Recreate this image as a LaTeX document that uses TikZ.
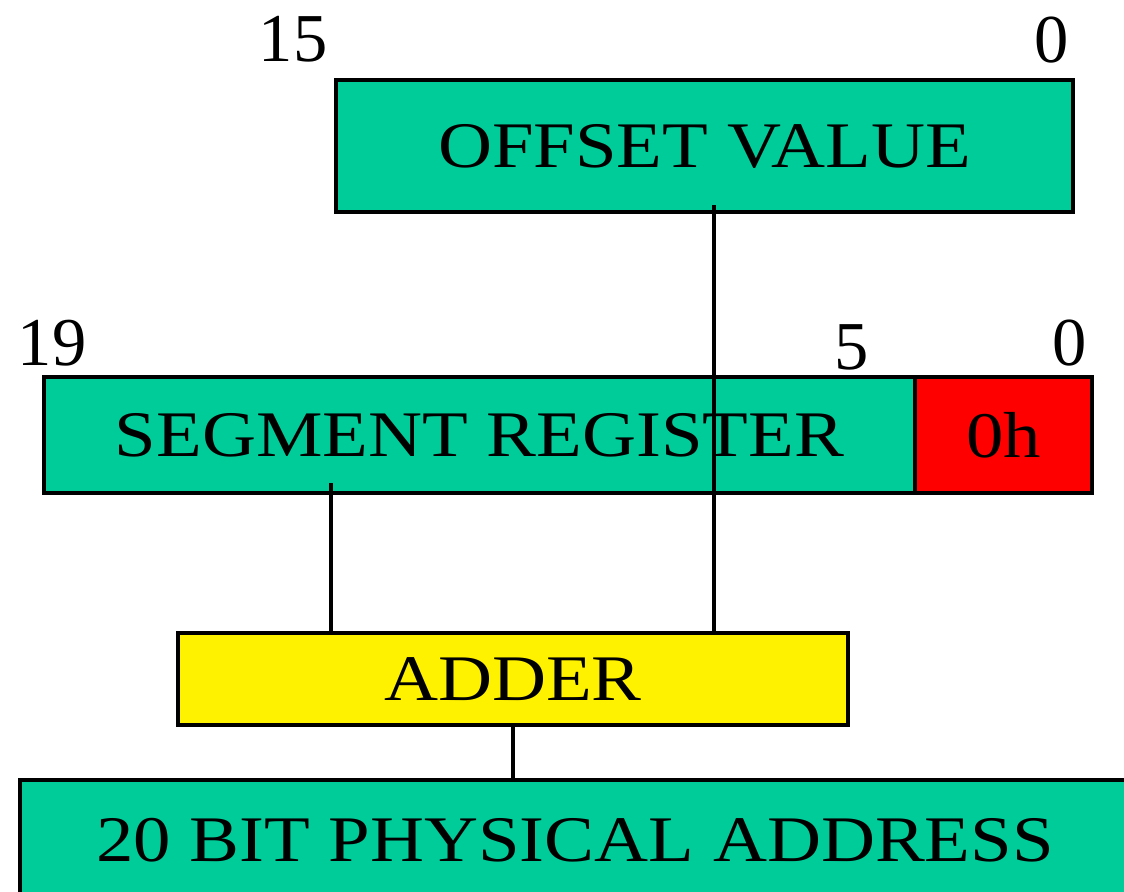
\documentclass[tikz,border=0pt]{standalone}
\usepackage{fontspec}
\setmainfont[FakeStretch=1.15]{Liberation Serif}
\newfontfamily\numfont{Liberation Serif}
\usetikzlibrary{calc}
\definecolor{regteal}{RGB}{0,204,153}
\tikzset{
	regbox/.style={draw=black, line width=1.3pt, inner sep=0pt, font=\fontsize{18.5}{20}\selectfont},
	bitnum/.style={inner sep=0pt, font=\numfont\fontsize{19.5}{20}\selectfont},
	wire/.style={line width=1pt}
}

\begin{document}
\begin{tikzpicture}
		%%%%% START %%%%%
		\useasboundingbox (0, 0) rectangle (11.24, -8.91);
		\clip (0, 0) rectangle (11.24, -8.91);
		
		\node[bitnum] (b15) at (2.93, -0.39) {15};
		\node[bitnum] (b0top) at (10.52, -0.40) {0};
		\node[regbox, fill=regteal, minimum width=7.37cm, minimum height=1.32cm] (offset) at (7.045, -1.46) {OFFSET VALUE};
		
		\node[bitnum] (b19) at (0.52, -3.43) {19};
		\node[bitnum] (b5) at (8.52, -3.47) {5};
		\node[bitnum] (b0seg) at (10.70, -3.43) {0};
		\node[regbox, fill=regteal, minimum width=8.71cm, minimum height=1.16cm] (segment) at (4.795, -4.35) {SEGMENT REGISTER};
		\node[regbox, fill=red, minimum width=1.77cm, minimum height=1.16cm] (zeroh) at (10.035, -4.35) {0h};
		
		\node[regbox, fill=yellow, minimum width=6.70cm, minimum height=0.92cm] (adder) at (5.13, -6.79) {ADDER};
		
		\node[regbox, fill=regteal, minimum width=11.10cm, minimum height=1.20cm] (phys) at (5.75, -8.40) {20 BIT PHYSICAL ADDRESS};
		
		\coordinate (offout) at (7.14, -2.05);
		\coordinate (segout) at (3.31, -4.83);
		\draw[wire] (offout) -- (offout |- adder.north);
		\draw[wire] (segout) -- (segout |- adder.north);
		\draw[wire] (adder.south) -- (adder.south |- phys.north);
		
		%%%%% END %%%%%
	\end{tikzpicture}
\end{document}
